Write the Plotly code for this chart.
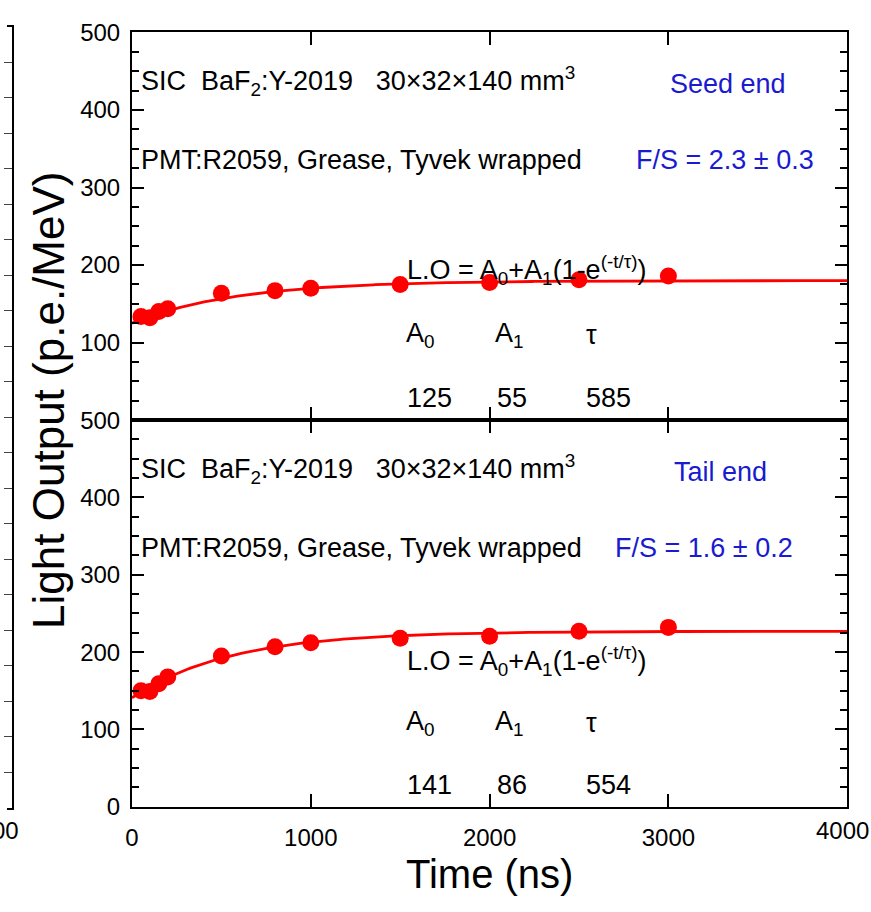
import numpy as np
import plotly.graph_objects as go

# ---------------- data ----------------
time_ns = [50, 100, 150, 200, 500, 800, 1000, 1500, 2000, 2500, 3000]
seed_lo = [133.5, 132, 140, 143.5, 163.5, 167, 170, 175, 177.5, 181, 186]
tail_lo = [150, 149, 159, 168, 195, 207, 212, 218, 220.5, 227, 232]

seed_A0, seed_A1, seed_tau = 125, 55, 585
tail_A0, tail_A1, tail_tau = 141, 86, 554

x_ticks = [0, 1000, 2000, 3000, 4000]
x_labels = ["0", "1000", "2000", "3000", ""]   # last label drawn separately (cut at page edge)
y_ticks_top = [100, 200, 300, 400, 500]
y_ticks_bot = [0, 100, 200, 300, 400, 500]

W, H = 871, 912
FONT = "Liberation Sans, Arial, sans-serif"
RED = "#ff0000"
BLUE = "#1a1ad0"

def px(xp):
    return xp / W

def py(yp):
    return 1 - yp / H

t_fit = np.linspace(0, 4000, 401)
seed_fit = seed_A0 + seed_A1 * (1 - np.exp(-t_fit / seed_tau))
tail_fit = tail_A0 + tail_A1 * (1 - np.exp(-t_fit / tail_tau))

fig = go.Figure()

# top panel (seed end)
fig.add_trace(go.Scatter(x=t_fit, y=seed_fit, mode="lines", line=dict(color=RED, width=2.8),
                         xaxis="x", yaxis="y", showlegend=False, hoverinfo="skip"))
fig.add_trace(go.Scatter(x=time_ns, y=seed_lo, mode="markers", marker=dict(color=RED, size=17),
                         xaxis="x", yaxis="y", showlegend=False))
# bottom panel (tail end)
fig.add_trace(go.Scatter(x=t_fit, y=tail_fit, mode="lines", line=dict(color=RED, width=2.8),
                         xaxis="x2", yaxis="y2", showlegend=False, hoverinfo="skip"))
fig.add_trace(go.Scatter(x=time_ns, y=tail_lo, mode="markers", marker=dict(color=RED, size=17),
                         xaxis="x2", yaxis="y2", showlegend=False))
# cropped neighbouring panel fragment at far left
fig.add_trace(go.Scatter(x=[0], y=[-5], mode="markers", marker=dict(size=1, color="white"),
                         xaxis="x3", yaxis="y3", showlegend=False, hoverinfo="skip"))

x_dom = [px(126), px(847)]
top_dom = [py(418.5), py(19)]
bot_dom = [py(817), py(418.5)]

common_x = dict(range=[0, 4000], showline=True, linecolor="black", linewidth=2, mirror="ticks",
                ticks="inside", ticklen=13, tickwidth=1.5, tickcolor="black",
                tickvals=x_ticks, ticktext=x_labels,
                showgrid=False, zeroline=False, ticklabelstandoff=8,
                tickfont=dict(family=FONT, size=24, color="black"))
common_y = dict(range=[0, 500], showline=True, linecolor="black", linewidth=2, mirror="ticks",
                ticks="inside", ticklen=12, tickwidth=1.5, tickcolor="black",
                minor=dict(dtick=25, ticklen=7, ticks="inside", tickwidth=1.5, tickcolor="black"),
                showgrid=False, zeroline=False, ticklabelstandoff=5,
                tickfont=dict(family=FONT, size=24, color="black"))

fig.update_layout(
    width=W, height=H, margin=dict(l=0, r=0, t=0, b=0),
    paper_bgcolor="white", plot_bgcolor="white",
    xaxis=dict(common_x, domain=x_dom, anchor="y", showticklabels=False),
    yaxis=dict(common_y, domain=top_dom, anchor="x", tickvals=y_ticks_top),
    xaxis2=dict(common_x, domain=x_dom, anchor="y2", matches="x"),
    yaxis2=dict(common_y, domain=bot_dom, anchor="x2", tickvals=y_ticks_bot),
    xaxis3=dict(domain=[0, px(5)], range=[0, 1], showline=True, linecolor="black", linewidth=2,
                mirror=True, showticklabels=False, showgrid=False, zeroline=False, anchor="y3"),
    yaxis3=dict(domain=[py(818), py(13)], range=[0, 22], side="right", showline=True,
                linecolor="black", linewidth=2, mirror=False, ticks="inside", ticklen=8,
                dtick=1, showticklabels=False, showgrid=False, zeroline=False, anchor="x3"),
)

ann = []

def txt(text, x, y, xref, yref, color="black", size=27, xanchor="left"):
    ann.append(dict(text=text, x=x, y=y, xref=xref, yref=yref, showarrow=False,
                    xanchor=xanchor, yanchor="middle",
                    font=dict(family=FONT, size=size, color=color)))

panels = [
    ("x", "y", "Seed end", "F/S = 2.3 ± 0.3", 2807, 3331, seed_A0, seed_A1, seed_tau, (194, 110, 29)),
    ("x2", "y2", "Tail end", "F/S = 1.6 ± 0.2", 2690, 3290, tail_A0, tail_A1, tail_tau, (189, 108, 28)),
]
for xr, yr, end_lbl, fs_lbl, fs_x, end_x, a0, a1, tau, (ylo, ya, yv) in panels:
    txt("SIC  BaF<sub>2</sub>:Y-2019   30×32×140 mm<sup>3</sup>", 38, 437, xr, yr)
    txt(end_lbl, end_x, 433, xr, yr, color=BLUE, xanchor="center")
    txt("PMT:R2059, Grease, Tyvek wrapped", 38, 335, xr, yr)
    txt(fs_lbl, fs_x, 335, xr, yr, color=BLUE)
    txt("L.O = A<sub>0</sub>+A<sub>1</sub>(1-e<sup>(-t/τ)</sup>)", 1529, ylo, xr, yr)
    txt("A<sub>0</sub>", 1524, ya, xr, yr)
    txt("A<sub>1</sub>", 2019, ya, xr, yr)
    txt("τ", 2528, ya, xr, yr)
    txt(str(a0), 1529, yv, xr, yr)
    txt(str(a1), 2028, yv, xr, yr)
    txt(str(tau), 2528, yv, xr, yr)

# axis titles
ann.append(dict(text="Light Output (p.e./MeV)", x=px(42), y=py(398), xref="paper", yref="paper",
                showarrow=False, textangle=-90, xanchor="center", yanchor="middle",
                font=dict(family=FONT, size=44, color="black")))
ann.append(dict(text="Time (ns)", x=px(486), y=py(886), xref="paper", yref="paper",
                showarrow=False, xanchor="center", yanchor="middle",
                font=dict(family=FONT, size=40, color="black")))
# last x tick label, reaching the right page edge as in the reference
ann.append(dict(text=str(x_ticks[-1]), x=1.0, y=py(841), xref="paper", yref="paper",
                showarrow=False, xanchor="right", yanchor="middle",
                font=dict(family=FONT, size=24, color="black")))
# clipped tick label of neighbouring panel
ann.append(dict(text="00", x=px(14), y=py(841), xref="paper", yref="paper",
                showarrow=False, xanchor="right", yanchor="middle",
                font=dict(family=FONT, size=24, color="black")))

fig.update_layout(annotations=ann)
fig.write_html("out.html")
